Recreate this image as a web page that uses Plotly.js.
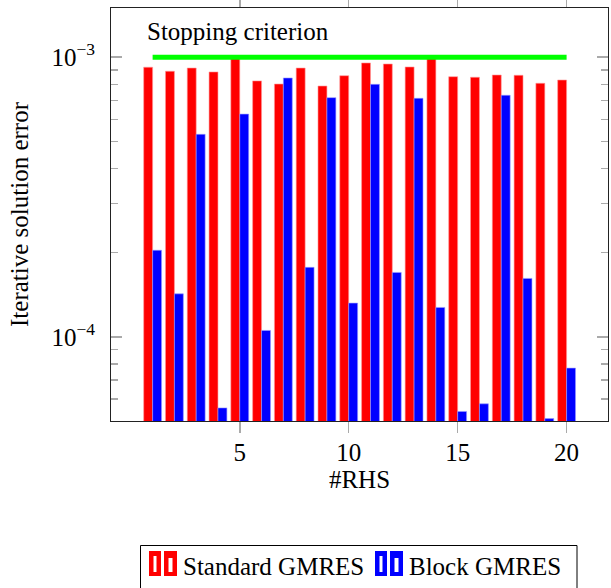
<!DOCTYPE html>
<html>
<head>
<meta charset="utf-8">
<script src="https://cdn.plot.ly/plotly-3.0.1.min.js"></script>
<style>html,body{margin:0;padding:0;background:#fff;}#chart{width:611px;height:588px;}</style>
</head>
<body>
<div id="chart"></div>
<script>
// Data
const rhs = [1,2,3,4,5,6,7,8,9,10,11,12,13,14,15,16,17,18,19,20];
const standardGMRES = [9.21e-4, 8.91e-4, 9.15e-4, 8.86e-4, 1.0e-3, 8.23e-4, 8.02e-4, 9.15e-4, 7.89e-4, 8.59e-4,
                       9.54e-4, 9.46e-4, 9.23e-4, 1.0e-3, 8.52e-4, 8.48e-4, 8.64e-4, 8.62e-4, 8.07e-4, 8.29e-4];
const blockGMRES = [2.04e-4, 1.425e-4, 5.30e-4, 5.57e-5, 6.26e-4, 1.054e-4, 8.43e-4, 1.772e-4, 7.17e-4, 1.32e-4,
                    8.0e-4, 1.70e-4, 7.13e-4, 1.274e-4, 5.41e-5, 5.76e-5, 7.31e-4, 1.618e-4, 5.10e-5, 7.73e-5];
const stopX = [1, 20];
const stopY = [1e-3, 1e-3];
const xTicks = [5, 10, 15, 20];
const yTicks = [1e-4, 1e-3];
const yTickText = ['10<sup>\u22124</sup>', '10<sup>\u22123</sup>'];
const yMinor = [5e-5,6e-5,7e-5,8e-5,9e-5,2e-4,3e-4,4e-4,5e-4,6e-4,7e-4,8e-4,9e-4];
const seriesNames = ['Standard GMRES', 'Block GMRES'];
const seriesColors = ['#ff0000', '#0000ff'];
const seriesEdges = ['#ff9a9a', '#9a9aff'];

const FONT = 'Liberation Serif';
const FS = 25;

// plot area in pixels (for legend placement in paper coordinates)
const PL = 111, PR = 608, PT = 8, PB = 421;
const px = v => (v - PL) / (PR - PL);
const py = v => (PB - v) / (PB - PT);

const traces = [
  {type:'bar', x: rhs, y: standardGMRES, name: seriesNames[0], showlegend:false,
   marker:{color: seriesColors[0], line:{color: seriesEdges[0], width:0.6}}},
  {type:'bar', x: rhs, y: blockGMRES, name: seriesNames[1], showlegend:false,
   marker:{color: seriesColors[1], line:{color: seriesEdges[1], width:0.6}}},
  {type:'scatter', mode:'lines', x: stopX, y: stopY, showlegend:false,
   line:{color:'#00ff00', width:5}, hoverinfo:'skip'}
];

// legend drawn as shapes + text
const shapes = [
  {type:'rect', xref:'paper', yref:'paper', x0:px(140.5), x1:px(577), y0:py(545.5), y1:py(600),
   line:{color:'#000', width:1}, fillcolor:'rgba(0,0,0,0)'}
];
const annotations = [
  {text:'Stopping criterion', xref:'x', yref:'paper', x:1, y:0.942,
   xanchor:'left', yanchor:'middle', xshift:-8, showarrow:false,
   font:{family:FONT, size:FS, color:'#000'}}
];
const iconLeft = [149, 375];
const textLeft = [183, 409];
for (let i = 0; i < 2; i++) {
  const L = iconLeft[i];
  shapes.push({type:'rect', xref:'paper', yref:'paper', x0:px(L), x1:px(L+12), y0:py(551), y1:py(576),
               line:{width:0}, fillcolor: seriesColors[i]});
  shapes.push({type:'rect', xref:'paper', yref:'paper', x0:px(L+15), x1:px(L+28), y0:py(551), y1:py(576),
               line:{width:0}, fillcolor: seriesColors[i]});
  shapes.push({type:'rect', xref:'paper', yref:'paper', x0:px(L+4.5), x1:px(L+7.5), y0:py(556), y1:py(572),
               line:{width:0}, fillcolor:'#fff'});
  shapes.push({type:'rect', xref:'paper', yref:'paper', x0:px(L+19.5), x1:px(L+23.5), y0:py(558), y1:py(572),
               line:{width:0}, fillcolor:'#fff'});
  annotations.push({text: seriesNames[i], xref:'paper', yref:'paper', x:px(textLeft[i]), y:py(566),
                    xanchor:'left', yanchor:'middle', showarrow:false, xshift:-2,
                    font:{family:FONT, size:FS, color:'#000'}});
}

const layout = {
  width:611, height:588, autosize:false,
  margin:{l:PL, r:611-PR, t:PT, b:588-PB},
  paper_bgcolor:'#fff', plot_bgcolor:'#fff',
  font:{family:FONT, size:FS, color:'#000'},
  barmode:'group', bargap:0.18, bargroupgap:0,
  showlegend:false,
  xaxis:{range:[-0.91, 21.9], tickmode:'array', tickvals:xTicks,
         ticks:'outside', ticklen:11, tickwidth:1.5, tickcolor:'#aaaaaa',
         showline:true, linecolor:'#222', linewidth:1, mirror:'ticks',
         showgrid:false, zeroline:false, layer:'below traces', ticklabelstandoff:-2,
         tickfont:{family:FONT, size:FS, color:'#000'},
         title:{text:'#RHS', font:{family:FONT, size:FS, color:'#000'}, standoff:0}},
  yaxis:{type:'log', range:[Math.log10(5e-5), Math.log10(1.5e-3)],
         tickmode:'array', tickvals:yTicks, ticktext:yTickText,
         ticks:'inside', ticklen:11, tickwidth:1.5, tickcolor:'#aaaaaa',
         minor:{tickmode:'array', tickvals:yMinor, ticks:'inside', ticklen:7, tickwidth:1.5, tickcolor:'#aaaaaa', showgrid:false},
         showline:true, linecolor:'#222', linewidth:1, mirror:'ticks',
         showgrid:false, zeroline:false, ticklabelstandoff:10,
         tickfont:{family:FONT, size:FS, color:'#000'},
         title:{text:'Iterative solution error', font:{family:FONT, size:FS, color:'#000'}, standoff:15}},
  shapes: shapes,
  annotations: annotations
};

Plotly.newPlot('chart', traces, layout, {displayModeBar:false, staticPlot:true});
</script>
</body>
</html>
